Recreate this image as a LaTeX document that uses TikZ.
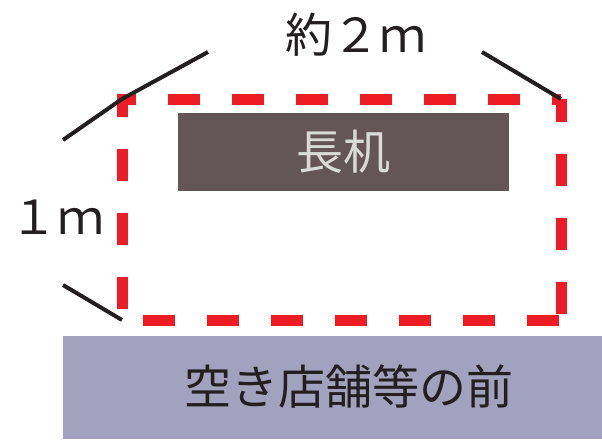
\documentclass[tikz,border=0pt]{standalone}
\usepackage{fontspec}
\setmainfont{Noto Sans CJK JP}
\usetikzlibrary{positioning}
\definecolor{tablebrown}{HTML}{645558}
\definecolor{frontgray}{HTML}{A2A2BE}
\definecolor{areared}{HTML}{ED1C24}
\definecolor{inkdark}{HTML}{231F20}
\definecolor{labelgray}{HTML}{DADADA}

\begin{document}
\begin{tikzpicture}[x=1pt, y=-1pt, every node/.style={inner sep=0pt,
						text=inkdark, font=\fontsize{47}{50}\selectfont},
						area/.style={draw=areared, line width=11pt, dash pattern=on 32pt off 32pt},
						guide/.style={draw=inkdark, line width=4pt}]
			\useasboundingbox (0,0) rectangle (602,439);

			\coordinate (tl) at (122,99);
			\coordinate (tr) at (561,99);
			\coordinate (bl) at (122,320);
			\coordinate (br) at (561,320);
			\coordinate (tlout) at (63,140);
			\coordinate (tlup) at (208,52);
			\coordinate (trup) at (482,52);
			\coordinate (blout) at (63,285);

			\node[fill=tablebrown, text=labelgray, minimum width=331pt, minimum height=78pt] (desk) at (343.5,152) {長机};
			\node[fill=frontgray, minimum width=539pt, minimum height=103pt, anchor=north west] (front) at (63,336) {};
			\node (frontlabel) at (349,387) {空き店舗等の前};
			\node (width) at (356,35) {約２ｍ};
			\node (depth) at (57,217) {１ｍ};

			\draw[area, dash phase=23pt] (tr) -- (tl) -- (bl) -- (br);
			\draw[area, dash phase=9pt] (tr) -- (br);

			\draw[guide] (tlout) -- (tl) -- (tlup);
			\draw[guide] (trup) -- (tr);
			\draw[guide] (blout) -- (bl);
		\end{tikzpicture}
\end{document}
